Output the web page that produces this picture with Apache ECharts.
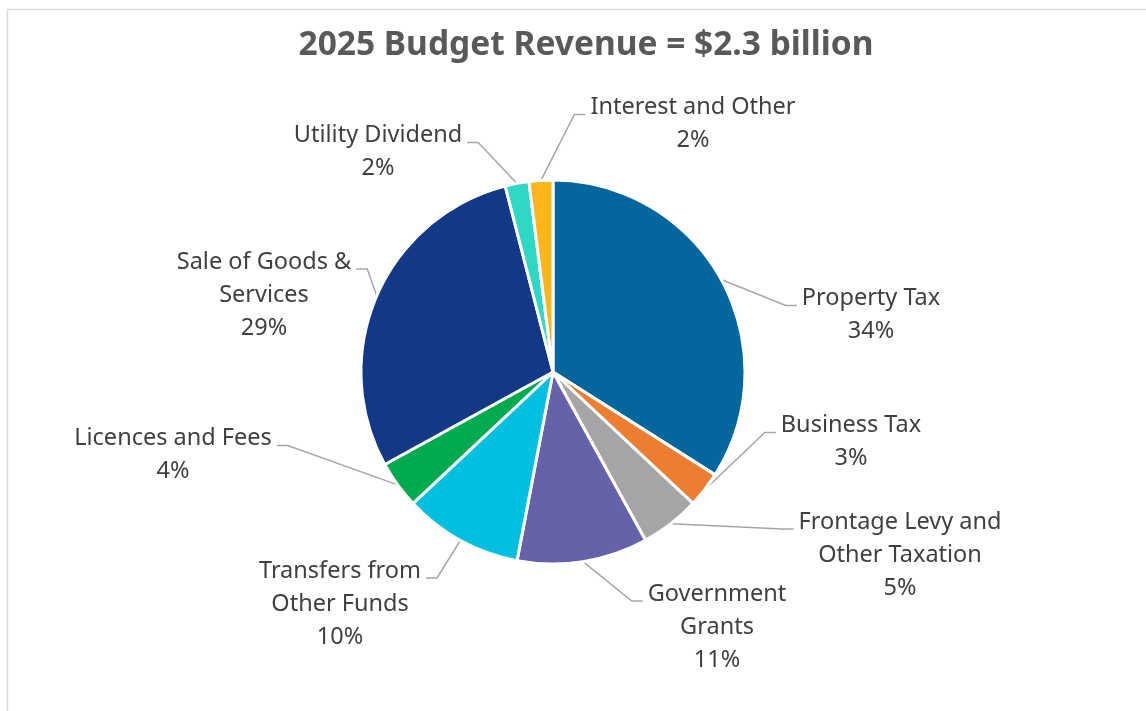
<!DOCTYPE html>
<html>
<head>
<meta charset="utf-8">
<script src="https://cdn.jsdelivr.net/npm/echarts@6/dist/echarts.min.js"></script>
<style>
html,body{margin:0;padding:0;background:#fff;}
#chart{width:1146px;height:711px;}
</style>
</head>
<body>
<div id="chart"></div>
<script>
const titleText = '2025 Budget Revenue = $2.3 billion';
const categories = [
  'Property Tax',
  'Business Tax',
  'Frontage Levy and\nOther Taxation',
  'Government\nGrants',
  'Transfers from\nOther Funds',
  'Licences and Fees',
  'Sale of Goods &\nServices',
  'Utility Dividend',
  'Interest and Other'
];
const values = [34, 3, 5, 11, 10, 4, 29, 2, 2];
const colors = ['#03669C', '#ED7D31', '#A5A5A5', '#6562A9', '#00BFDF', '#00AA4F', '#133986', '#2FD8C4', '#FDB71A'];
// label block centres (layout only)
const labelCentres = [
  [871, 315], [851, 442], [900, 555], [717, 627], [340, 604],
  [173, 455], [264, 295], [378, 152], [693, 124]
];

const chart = echarts.init(document.getElementById('chart'));
const FONT = 'Noto Sans';
const LINE_H = 33;
chart.setOption({
  backgroundColor: '#ffffff',
  animation: false,
  title: {
    text: titleText,
    left: 585, top: 23, textAlign: 'center',
    textStyle: { fontFamily: FONT, fontWeight: 'bold', fontSize: 33.5, color: '#595959' }
  },
  graphic: [{
    type: 'rect', silent: true,
    shape: { x: 7.5, y: 9.5, width: 1160, height: 720 },
    style: { fill: 'none', stroke: '#D9D9D9', lineWidth: 1.5 }
  }],
  series: [{
    type: 'pie',
    center: [553, 372],
    radius: 192,
    startAngle: 90,
    clockwise: true,
    data: categories.map((c, i) => ({ name: c, value: values[i], itemStyle: { color: colors[i] } })),
    itemStyle: { borderColor: '#ffffff', borderWidth: 3 },
    label: {
      show: true,
      position: 'outside',
      formatter: p => p.name.split('\n').map(s => '{t|' + s + '}').join('\n') + '\n{t|' + p.value + '%}',
      rich: { t: { align: 'center', fontFamily: FONT, fontSize: 23.5, lineHeight: LINE_H, color: '#404040' } },
      color: '#404040'
    },
    labelLine: { show: true, length: 20, length2: 15, lineStyle: { color: '#A6A6A6', width: 1.5 } },
    labelLayout: function (params) {
      const c = labelCentres[params.dataIndex];
      const r = params.labelRect;
      const start = params.labelLinePoints[0];
      const lines = categories[params.dataIndex].split('\n').length + 1;
      const topLineY = c[1] - (lines * LINE_H) / 2 + LINE_H / 2;
      const y = topLineY + 7;
      let endX, bendX;
      if (c[0] > start[0]) { endX = c[0] - r.width / 2 - 5; bendX = endX - 11; }
      else { endX = c[0] + r.width / 2 + 5; bendX = endX + 11; }
      return {
        x: c[0], y: c[1], align: 'center', verticalAlign: 'middle',
        labelLinePoints: [start, [bendX, y], [endX, y]]
      };
    }
  }]
});
chart.setOption({ title: { left: 581 } });
</script>
</body>
</html>
